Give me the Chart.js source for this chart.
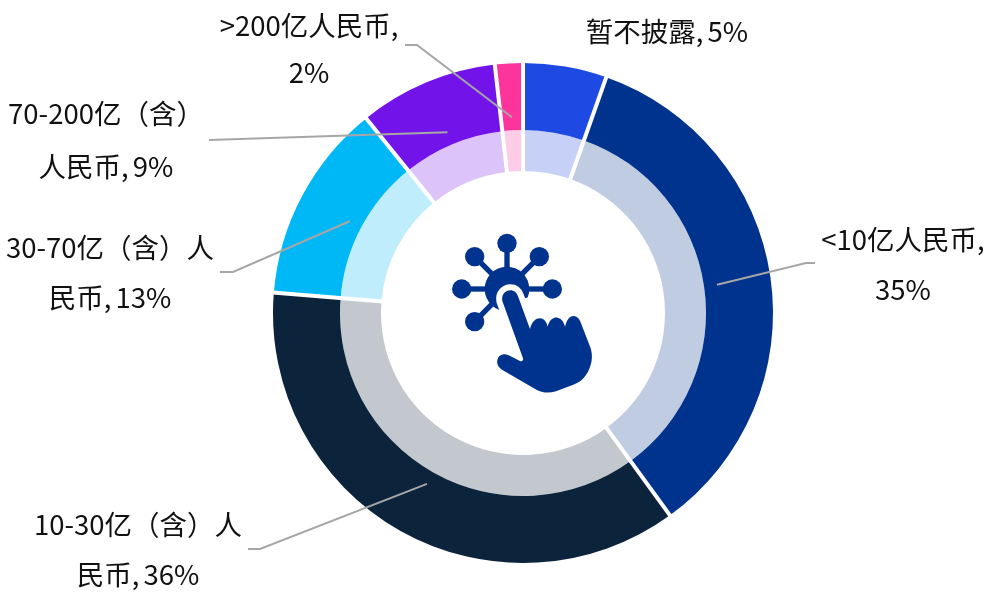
<!DOCTYPE html>
<html>
<head>
<meta charset="utf-8">
<style>
  html, body { margin: 0; padding: 0; background: #fff; }
  canvas { display: block; }
</style>
<script src="https://cdn.jsdelivr.net/npm/chart.js@4"></script>
</head>
<body>
<canvas id="myChart" width="996" height="597"></canvas>
<script>
// series, clockwise from 12 o'clock
const categories = ['暂不披露', '<10亿人民币', '10-30亿（含）人民币', '30-70亿（含）人民币', '70-200亿（含）人民币', '>200亿人民币'];
const shares = [5.4, 34.6, 36.3, 12.9, 9.0, 1.8];

const outerColors = ['#1E49E2', '#00338D', '#0C233C', '#00B8F5', '#7213EA', '#FD349C'];
const innerColors = ['#1E49E240', '#00338D40', '#0C233C40', '#00B8F540', '#7213EA40', '#FD349C40'];

// label text, one entry per line
const labelLines = [
    ['暂不披露, 5%'],
    ['<10亿人民币,', '35%'],
    ['10-30亿（含）人', '民币, 36%'],
    ['30-70亿（含）人', '民币, 13%'],
    ['70-200亿（含）', '人民币, 9%'],
    ['>200亿人民币,', '2%']
];

// where the text sits, first line centre + line step
const labelPos = [
    { x: 667, y: 32, step: 0 },
    { x: 903, y: 240, step: 50 },
    { x: 138, y: 525, step: 50 },
    { x: 110, y: 248, step: 50 },
    { x: 106, y: 114, step: 53 },
    { x: 309, y: 26, step: 47 }
];

// leader line: elbow points after the start on the ring
const leaders = [
    null,
    [[806, 263], [815, 263]],
    [[260, 549], [248, 549]],
    [[233, 272], [220, 272]],
    [[209, 140]],
    [[417, 45], [405, 45]]
];

const calloutPlugin = {
    id: 'callouts',
    afterDatasetsDraw(chart) {
        // white gaps between slices, spacing option makes them uneven
        const ctx = chart.ctx;
        const outer = chart.getDatasetMeta(0).data;
        const inner = chart.getDatasetMeta(1).data;
        ctx.save();
        ctx.strokeStyle = '#fff';
        ctx.lineWidth = 4;
        outer.forEach((arc, i) => {
            const a = arc.startAngle;
            ctx.beginPath();
            ctx.moveTo(arc.x + Math.cos(a) * (inner[i].innerRadius - 1), arc.y + Math.sin(a) * (inner[i].innerRadius - 1));
            ctx.lineTo(arc.x + Math.cos(a) * (arc.outerRadius + 1), arc.y + Math.sin(a) * (arc.outerRadius + 1));
            ctx.stroke();
        });
        ctx.restore();
    },
    afterDraw(chart) {
        const ctx = chart.ctx;
        const outer = chart.getDatasetMeta(0).data;
        const inner = chart.getDatasetMeta(1).data;

        ctx.save();
        ctx.strokeStyle = '#A6A6A6';
        ctx.lineWidth = 2;
        outer.forEach((arc, i) => {
            if (!leaders[i]) return;
            const mid = (arc.startAngle + arc.endAngle) / 2;
            const r = (inner[i].innerRadius + arc.outerRadius) / 2;
            ctx.beginPath();
            ctx.moveTo(arc.x + Math.cos(mid) * r, arc.y + Math.sin(mid) * r);
            leaders[i].forEach(p => ctx.lineTo(p[0], p[1]));
            ctx.stroke();
        });

        ctx.fillStyle = '#111';
        ctx.font = '27.5px "Noto Sans CJK SC"';
        ctx.wordSpacing = '-2px';
        ctx.textAlign = 'center';
        ctx.textBaseline = 'middle';
        labelLines.forEach((lines, i) => {
            lines.forEach((line, j) => {
                ctx.fillText(line, labelPos[i].x, labelPos[i].y + j * labelPos[i].step);
            });
        });
        ctx.restore();
        drawIcon(ctx);
    }
};

// hand icon in the hole, traced at 3x from (430,220)
function drawIcon(ctx) {
    const blue = '#00338D';
    ctx.save();
    ctx.translate(430, 220);
    ctx.scale(1 / 3, 1 / 3);
    ctx.fillStyle = blue;
    ctx.strokeStyle = blue;

    const hub = [231, 207];
    const nodes = [[231, 70], [134, 110], [328, 110], [95, 207], [367, 207], [134, 305]];
    ctx.lineWidth = 16;
    nodes.forEach(n => {
        const a = Math.atan2(n[1] - hub[1], n[0] - hub[0]);
        ctx.beginPath();
        ctx.moveTo(hub[0] + Math.cos(a) * 60, hub[1] + Math.sin(a) * 60);
        ctx.lineTo(n[0], n[1]);
        ctx.stroke();
        ctx.beginPath();
        ctx.arc(n[0], n[1], 29, 0, Math.PI * 2);
        ctx.fill();
    });

    // hub, the finger's white outline cuts it open
    ctx.beginPath();
    ctx.arc(hub[0], hub[1], 67, Math.PI * 0.62, Math.PI * 0.12);
    ctx.closePath();
    ctx.fill();

    const hand = new Path2D('M217 243 C213 222 228 211 241 211 C252 211 260 218 264 229 L300 327 C306 302 320 294 331 295 C342 296 350 306 353 320 C358 298 372 291 383 293 C394 295 402 306 405 320 C411 296 421 288 431 288 C441 288 449 297 453 310 L482 385 C489 410 486 432 474 455 C462 477 448 487 430 494 L378 514 C358 520 340 519 322 511 L216 449 C203 441 198 427 204 414 C210 403 224 400 236 406 L270 423 C276 426 281 421 279 415 Z');
    ctx.strokeStyle = '#fff';
    ctx.lineWidth = 36;
    ctx.lineJoin = 'round';
    ctx.stroke(hand);
    ctx.fill(hand);
    ctx.restore();
}

var myChart = new Chart(document.getElementById('myChart').getContext('2d'), {
    type: 'doughnut',
    data: {
        labels: categories,
        datasets: [
            { data: shares, backgroundColor: outerColors, borderWidth: 0, weight: 67 },
            { data: shares, backgroundColor: innerColors, borderWidth: 0, weight: 41 }
        ]
    },
    options: {
        responsive: false,
        animation: false,
        cutout: '56.8%',
        layout: { padding: { left: 273, right: 223, top: 63, bottom: 34 } },
        plugins: {
            legend: { display: false },
            tooltip: { enabled: false }
        }
    },
    plugins: [calloutPlugin]
});
</script>
</body>
</html>
